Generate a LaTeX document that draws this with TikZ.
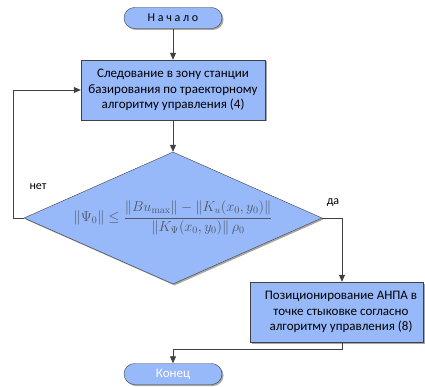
\documentclass[tikz,border=0pt]{standalone}
\usepackage{amsmath,amssymb}
\usepackage[no-math]{fontspec}
\setmainfont{Carlito}
\usepackage{tikz}
\usetikzlibrary{arrows.meta,positioning,calc,shapes.geometric,shadows}
\definecolor{blockblue}{RGB}{151,185,250}
\definecolor{edgegray}{RGB}{64,64,64}
\definecolor{formgray}{RGB}{80,86,102}

\begin{document}
\begin{tikzpicture}[
  x=1pt, y=1pt,
  font=\fontsize{13}{15.7}\selectfont,
  shade/.style={drop shadow={shadow xshift=1.5pt, shadow yshift=-1.5pt, opacity=0.35, fill=black}},
  terminal/.style={draw=edgegray, fill=blockblue, rounded corners=10.5pt,
                   minimum width=98pt, minimum height=21pt, inner sep=0pt, shade},
  block/.style={draw=edgegray, fill=blockblue, minimum height=60pt,
                align=center, inner sep=2pt, shade},
  decision/.style={diamond, aspect=2.26, draw=edgegray, fill=blockblue, minimum width=298pt,
                   minimum height=132pt, inner sep=0pt, shade},
  flow/.style={-{Triangle[length=7pt,width=6pt]}, edgegray, line width=0.8pt},
  lbl/.style={font=\fontsize{12}{14}\selectfont},
]

\def\cx{173}  % main column
\def\rx{342}  % right branch
\def\lx{13}   % left loop

\useasboundingbox (0,0) rectangle (425,-387);

%% --- Nodes ---
\node[terminal, font=\fontsize{12}{14}\selectfont] (start) at (\cx,-18) {Н а ч а л о};
\node[block, minimum width=184pt] (follow) at (\cx,-90)
  {Следование в зону станции\\ базирования по траекторному\\ алгоритму управления (4)};
\node[decision] (cond) at (\cx,-218) {\color{formgray}\fontsize{14}{17}\selectfont
  $\displaystyle \left\|\Psi_0\right\| \le
   \frac{\left\|Bu_{\max}\right\| - \left\|K_u(x_0,y_0)\right\|}
        {\left\|K_\Psi(x_0,y_0)\right\|\rho_0}$};
\node[block, minimum width=173pt] (dock) at (336.5,-312)
  {\hspace*{9pt}Позиционирование АНПА в\\ \hspace*{9pt}точке стыковке согласно\\ \hspace*{9pt}алгоритму управления (8)};
\node[terminal, text=white] (stop) at (\cx,-374) {Конец};

%% --- Connectors ---
\coordinate (nocorner) at (\lx,-218);
\coordinate (yescorner) at (\rx,-218);
\coordinate (joinpt) at (\rx,-349);

\draw[flow] (start) -- (follow);
\draw[flow] (follow) -- (cond);
\draw[flow] (cond.west) -- (nocorner) |- (follow.west);
\draw[flow] (cond.east) -- (yescorner) -- (yescorner |- dock.north);
\draw[flow] (yescorner |- dock.south) -- (joinpt) -| (stop.north);

%% --- Labels ---
\node[lbl] (nolbl) at (38,-187) {нет};
\node[lbl] (yeslbl) at (333,-203) {да};

\end{tikzpicture}
\end{document}
